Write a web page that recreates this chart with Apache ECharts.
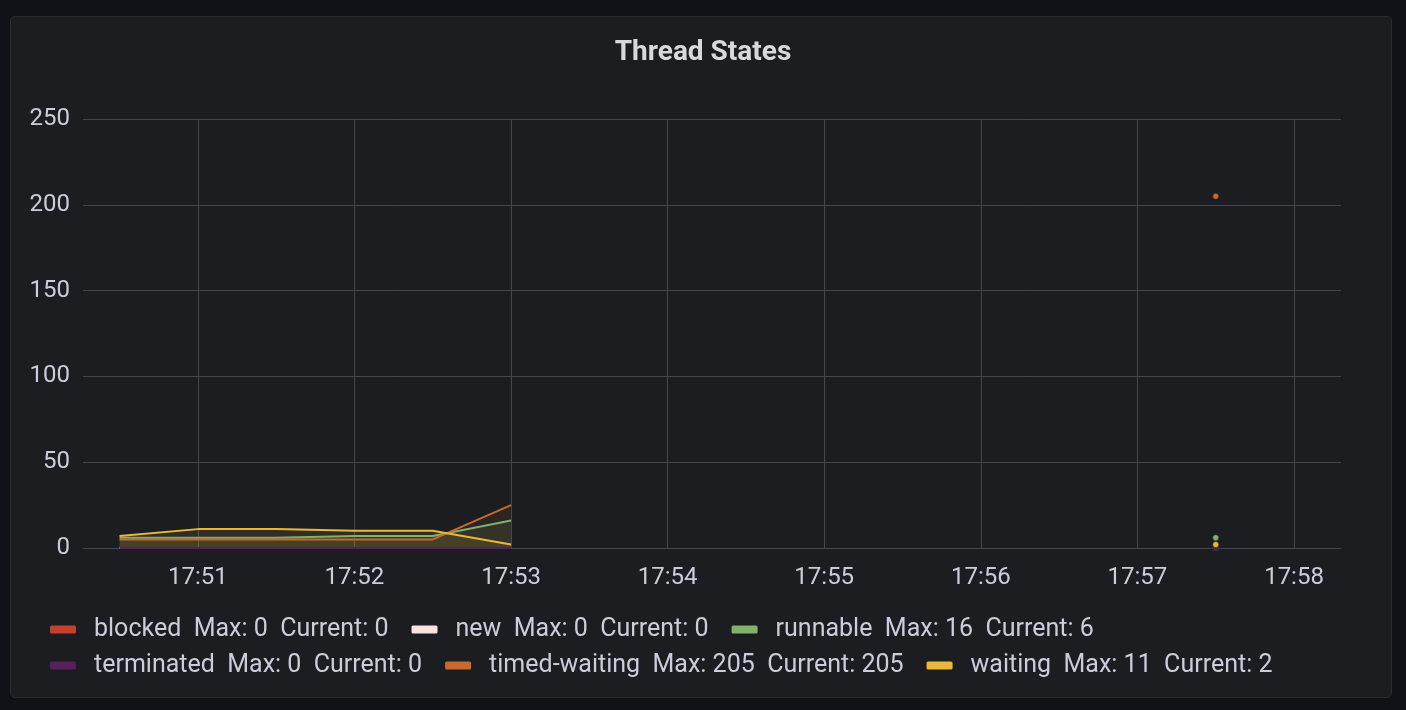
<!DOCTYPE html>
<html>
<head>
<meta charset="utf-8">
<script src="https://cdn.jsdelivr.net/npm/echarts@6/dist/echarts.min.js"></script>
<style>
html,body{margin:0;padding:0;width:1406px;height:710px;background:#111217;overflow:hidden;}
#panel{position:absolute;left:10px;top:16px;width:1380px;height:680px;background:#1c1d21;border:1px solid #2a2b2f;border-radius:5px;}
#chart{position:absolute;left:0;top:0;width:1406px;height:710px;}
</style>
</head>
<body>
<div id="panel"></div>
<div id="chart"></div>
<script>
// ---- data ----
const times = ['17:50:30','17:51:00','17:51:30','17:52:00','17:52:30','17:53:00','17:53:30','17:54:00','17:54:30','17:55:00','17:55:30','17:56:00','17:56:30','17:57:00','17:57:30'];
const blocked      = [0, 0, 0, 0, 0, 0, null, null, null, null, null, null, null, null, 0];
const newThreads   = [0, 0, 0, 0, 0, 0, null, null, null, null, null, null, null, null, 0];
const runnable     = [6, 6, 6, 7, 7, 16, null, null, null, null, null, null, null, null, 6];
const terminated   = [0, 0, 0, 0, 0, 0, null, null, null, null, null, null, null, null, 0];
const timedWaiting = [5, 5, 5, 5, 5, 25, null, null, null, null, null, null, null, null, 205];
const waiting      = [7, 11, 11, 10, 10, 2, null, null, null, null, null, null, null, null, 2];
const seriesNames  = ['blocked', 'new', 'runnable', 'terminated', 'timed-waiting', 'waiting'];
const seriesColors = ['#C4412A', '#FCE2DE', '#7EB26D', '#56205A', '#C8692D', '#EAB839'];
const axisMin = '17:50:16';
const axisMax = '17:58:18';
const yTicks = [0, 50, 100, 150, 200, 250];

function toTime(s) {
  const p = s.split(':').map(Number);
  return new Date(2024, 0, 1, p[0], p[1], p[2]).getTime();
}
const seriesData = [blocked, newThreads, runnable, terminated, timedWaiting, waiting];
const lastIdx = times.length - 1;

function stats(arr) {
  const vals = arr.filter(v => v !== null);
  let cur = null;
  for (let i = arr.length - 1; i >= 0; i--) { if (arr[i] !== null) { cur = arr[i]; break; } }
  return { max: Math.max.apply(null, vals), cur: cur };
}
const legendText = {};
seriesNames.forEach((n, i) => {
  const s = stats(seriesData[i]);
  legendText[n] = n + '  Max: ' + s.max + '  Current: ' + s.cur;
});

const chart = echarts.init(document.getElementById('chart'), null, { renderer: 'canvas' });
const font = 'Roboto, "Noto Sans", sans-serif';
const gridColor = '#46474b';

function makeLegend(names, top) {
  return {
    left: 48,
    top: top,
    padding: 0,
    orient: 'horizontal',
    itemWidth: 28,
    itemHeight: 10,
    itemGap: 21,
    icon: 'roundRect',
    data: names.map(n => ({ name: n, itemStyle: { color: seriesColors[seriesNames.indexOf(n)] } })),
    formatter: n => legendText[n],
    textStyle: { color: '#ccccdc', fontFamily: font, fontSize: 25, padding: [0, 0, 0, 12] }
  };
}

chart.setOption({
  backgroundColor: 'transparent',
  animation: false,
  title: {
    text: 'Thread States',
    left: 'center',
    top: 34,
    textStyle: { color: '#d8d9de', fontFamily: font, fontSize: 28, fontWeight: 'bold' }
  },
  grid: { left: 83, right: 65, top: 119, bottom: 162, containLabel: false },
  legend: [
    makeLegend(seriesNames.slice(0, 3), 617),
    makeLegend(seriesNames.slice(3), 653)
  ],
  xAxis: {
    type: 'time',
    min: toTime(axisMin),
    max: toTime(axisMax),
    minInterval: 60000,
    maxInterval: 60000,
    axisLine: { show: true, lineStyle: { color: gridColor, width: 1 } },
    axisTick: { show: false },
    splitLine: { show: true, showMinLine: false, showMaxLine: false, lineStyle: { color: gridColor, width: 1 } },
    axisLabel: {
      color: '#ccccdc', fontFamily: font, fontSize: 24, margin: 18,
      formatter: v => { const d = new Date(v); return String(d.getHours()).padStart(2,'0') + ':' + String(d.getMinutes()).padStart(2,'0'); },
      showMinLabel: false, showMaxLabel: false
    }
  },
  yAxis: {
    type: 'value',
    min: yTicks[0],
    max: yTicks[yTicks.length - 1],
    interval: yTicks[1] - yTicks[0],
    axisLine: { show: false },
    axisTick: { show: false },
    splitLine: { show: true, lineStyle: { color: gridColor, width: 1 } },
    axisLabel: { color: '#ccccdc', fontFamily: font, fontSize: 24, margin: 13 }
  },
  series: seriesNames.map((n, i) => ({
    name: n,
    type: 'line',
    data: times.map((t, j) => [toTime(t), seriesData[i][j]]),
    connectNulls: false,
    showSymbol: true,
    symbol: 'circle',
    symbolSize: (v, p) => (p.dataIndex === lastIdx ? 6 : 0),
    lineStyle: { color: seriesColors[i], width: 2 },
    itemStyle: { color: seriesColors[i], borderColor: '#1c1d21', borderWidth: 0.5 },
    areaStyle: { color: seriesColors[i], opacity: 0.1 },
    emphasis: { disabled: true }
  }))
});
</script>
</body>
</html>
